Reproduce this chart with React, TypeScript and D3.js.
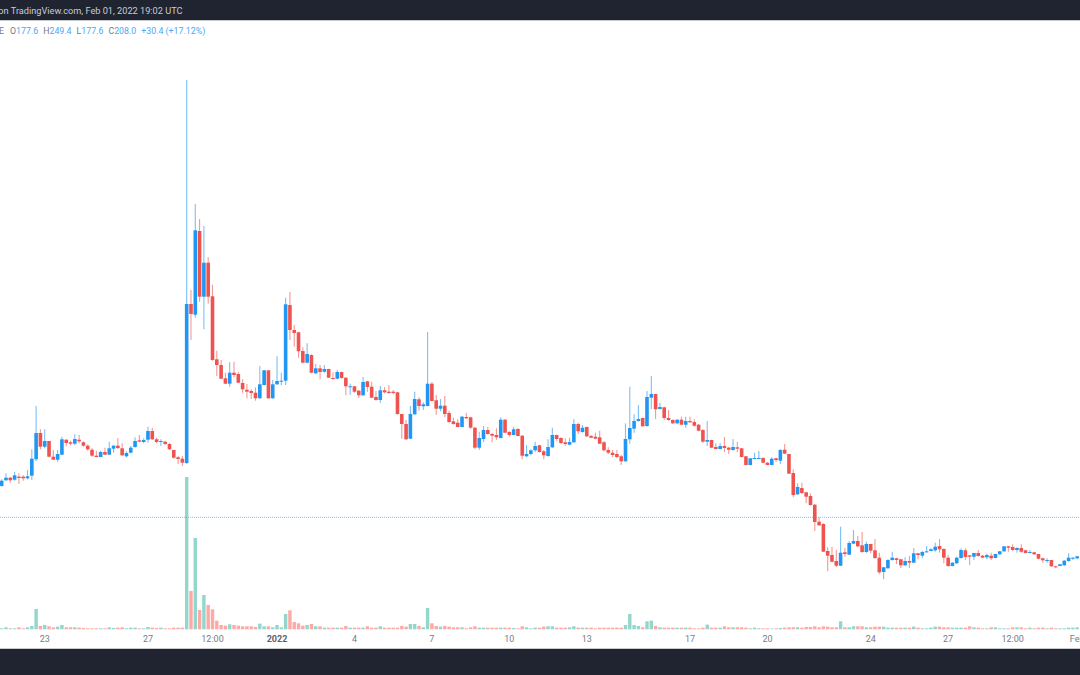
import { useEffect, useRef } from 'react';
import * as d3 from 'd3';

const opens = [
  164,169.7,172.3,170.3,173.3,173.3,171.7,174.3,190.7,217,
  203.3,209,193.3,190.3,195.3,210.3,207.7,206.3,210.3,207.7,
  204.3,200.3,194.3,193,198,195.3,201.3,204.3,201.7,193.7,
  197.3,203,209.7,208,210.3,219,210.7,208.7,208.3,206,
  200,192.7,191.3,187,346,335.3,419,353.3,387.3,353.7,
  290.7,285,271.7,266.3,277.3,276,267,260.3,259,257.3,
  251.7,265,279.7,251.7,265.7,268.3,269.3,345,320,317.7,
  299,287.3,295,276.7,281.7,278.3,281,272,271.3,278,
  272.3,262.7,263.7,259.3,254.7,268.7,263.3,253,250,259.7,
  258.3,258.3,257.7,236,226,211.3,235.7,250.7,243.7,244,
  266.3,249.7,241.3,244.3,237,228.7,227.3,223,233,232.7,
  222.3,202.3,211,220,216,215,212,230.3,218,215,
  221,214.3,193.7,196,199.7,204.7,198.7,194,202.7,215,
  212,207.7,205.3,207.7,226,218,223,214,213.3,212.7,
  207.7,200,197.3,196,193.7,188.7,210.7,221.3,229,232,
  224,252.3,256,241,242.7,232,230,226.7,230.3,225.3,
  229,228,225.3,220,208.3,210,203,201,204,202.3,
  200,202.7,201.7,193.7,185,191.7,191,192,187.3,185,
  191.7,189.3,200.3,196,177,155.7,162,157.7,154,145.3,
  128.3,126,99,95,89,84.3,97.7,95.3,106.3,109,
  104.7,98,106,99.7,92.3,78,81.7,90,91.7,90.7,
  84.7,89,87.3,96.7,94.3,97.7,99,99.7,104,101,
  92.3,84,86.7,92,99.7,94.7,93.3,97,94.3,92.7,
  94.3,92,95.7,98.7,103.7,103,100,102,99.7,97.3,
  97.7,96,91.7,89.3,90,83.7,84,84.7,89,91.3,91.7,
];

const closes = [
  169.3,172.3,169.7,174.7,172,171.7,173.7,191.3,217,203.3,
  209,193.3,190.3,196,210.7,207,206.3,211,208.7,204.3,
  200.7,194.3,193,198,195.3,201.7,204.3,202,194.7,197,
  202.3,209,208.3,210,219,210.7,208,209,206,200.7,
  192.3,191,187.3,346,336,419.7,353.3,387.3,353.3,290,
  285,271.3,266.3,277.3,275,267.3,260.7,258.3,257,251.7,
  265.7,279.7,251.7,265.7,269,269.3,345.7,320,317,298.7,
  287.3,296,277.3,281.7,278,281,272.3,271,278,272,
  263.7,263.7,258.3,254.7,268,263,252.3,250,259.7,257.7,
  257,257,236,226,210.7,236,251,244,245.7,266.3,
  249,241.3,244.3,236,228,226,223,233.3,231.7,222.3,
  202.3,212,220,216,214.3,212.7,230.3,217.3,215,220.7,
  214,194.3,196,199.7,204,198,194.7,203,215,211,
  207,206,208,226,218.7,222.3,213.7,212.3,211.3,206.3,
  199.7,197.3,195,193,188.7,211,222,229,231,223.7,
  253,256,240.7,243,232,230,226.7,230.3,225.3,229,
  227.7,224.3,219.3,208.3,210,202.3,201,204,202,200.3,
  203,201.3,193,185,191.7,192,192,187.3,185,191.3,
  190,200,196.3,176.3,155,163,157,153.3,145,128,
  124.7,98.3,94.3,88.3,84.3,97.3,96,107,109,103.7,
  98,106,99.3,92,77.7,82.7,90,92.3,90,84.7,
  89,87.3,96.7,95,98,98.7,100.7,103.3,100.7,92.3,
  84,87.3,92.3,100,93,93.3,97,94,92.3,95,
  91.7,96,98.7,103.7,102.3,100,102,98.3,97,98,
  95.7,91.3,89.7,90,83.7,83,85.7,89.3,92.3,92.3,93.7,
];

const highs = [
  170.7,176.7,173.3,178,176.7,174.7,180,200.7,244,220.7,
  220.7,209,200,200,213.3,210.7,209.3,215.7,215,208.7,
  205.7,201.7,199.3,199.3,202.3,208.3,205,212,206.7,198.7,
  204,212.7,215,211.7,223.3,222.3,212.3,210.7,209.3,207,
  200.3,194,194,570,360,446,431,424,392.7,365.3,
  299.3,290,277.3,287.7,288.3,278.3,270.7,266,260.7,262.7,
  284,280,280,270,293.7,277.3,352.3,358,325,318.3,
  302.7,306.7,295.7,286,285,285,281.3,277.7,280,278.3,
  272.7,266.3,264,260,273,269.3,268.3,259,264,262.7,
  265,260,258,236.3,230,244,258.3,252.7,247.7,318,
  268,255,251,254,239.3,232.3,230.7,234,237,233.3,
  222.7,218.3,224,223,217.3,221.7,232.7,231,219,223.3,
  222,214.7,205,200.7,208.3,205.3,200,210.7,222.3,215.3,
  212.7,211.7,212.3,230.7,227.3,225,223.3,215,217.3,219.3,
  209,202.7,200,200,195,226.7,263.3,235.7,245,232.3,
  259,274,256.3,247.3,243.3,240,230.7,231,233.3,233.3,
  233.3,230.7,226,220.7,229,210.3,206.7,206.7,213,203.3,
  211,208.3,202,194,192,197.3,199,192.7,188,192.7,
  192.3,201,206,196.3,180.7,166.7,167.3,158.3,156.7,146,
  132.7,126.7,102.7,103.3,100,123.3,102.3,109,120,114,
  118,108.3,106.3,111,97.3,83,90.7,98.3,92.3,91.3,
  92.7,94,102,97.3,99,104,101.7,107.3,111,101.7,
  95,87.7,93.3,101.7,101.7,95,97.3,100,95,96.3,
  97.3,96.3,99,104,104,105.7,102.7,105.7,100.3,100,
  98.3,96.3,92.3,91.7,90.3,84.3,86,90,96.7,93,94,
];

const lows = [
  163.3,169,167.3,169.3,166,169.3,170.7,170,189,200.7,
  201.7,192.7,190,188.3,194.7,204,204.7,204.7,206.7,203.3,
  199.3,193.3,192.7,192.7,195,195,197.3,200.7,194,192.7,
  196.7,202.3,207.7,206.7,207.3,210,206.7,204,204.7,200,
  191.3,186,184,186,310,332.3,348.3,320.7,346.3,289.3,
  274,270.7,266,263.3,272.7,266.7,257.3,251.7,251.3,249.3,
  251.3,264.7,251.3,251.3,265,265,265,310,303.3,292.3,
  286.7,286.7,276.7,276,270.7,277.3,272,270,270.7,271.3,
  254.7,255.3,257.3,252,254,258.3,251.7,249.3,247.3,256.7,
  256.3,255.7,235.3,211.3,210.3,211,235.3,239.3,240,243.7,
  248.7,235.3,238.7,232.7,226.7,225.3,222.7,222.7,231,221.3,
  200.7,200,208,215.3,207.7,210,211.7,216.7,213.3,214.7,
  213.7,190.7,192.7,194.7,197.7,197.3,190.7,193.3,202,209.3,
  206,204,204.7,207,216,217.3,213,212,210.7,206,
  198.7,196,192.7,192,185,188.3,206.3,217.3,228.3,223.3,
  223.3,241,231,240.7,230,229.3,226,225.7,224.7,222,
  227.3,223.3,218.7,207.3,204,201.7,200.7,200.7,198,196,
  199.3,198,192.7,184.7,184.7,191,191,186.7,184.7,184.7,
  188,186,196,176,152.7,155,156,146.7,144.3,119,
  124,98,78.7,87.7,82.7,84,93.3,95,106,102.7,
  97.3,97.3,96.7,91.3,76,70.7,81.3,89.3,86,82,
  84,82,87,90.7,91.7,97.3,98.7,98.3,97.3,86.7,
  83.3,83.7,86.3,91.3,90,85,90,93.3,91.7,90.7,
  90,91.7,95.3,98,98.3,98.7,97.3,97.3,96.7,96.7,
  95,90.7,87.3,87.3,83,81.7,83.7,84.3,88.3,90,90.7,
];

const volumes = [
  3,6,3,3,6,3,6,10,61,10,
  13,9,6,8,13,6,6,6,5,4,
  3,3,3,3,3,6,4,5,6,3,
  5,5,3,3,7,5,4,5,3,3,
  5,5,5,457,115,274,58,103,73,60,
  26,13,11,15,13,11,9,9,9,7,
  17,9,9,6,13,6,46,57,22,18,
  11,13,16,9,9,5,5,5,5,5,
  10,5,5,5,5,9,5,5,9,5,
  5,5,5,10,8,16,16,10,6,64,
  18,10,8,10,8,6,6,6,3,6,
  9,5,5,5,5,5,5,5,5,4,
  3,9,6,3,5,5,8,9,9,5,
  5,5,6,9,5,5,5,5,3,5,
  5,5,5,5,5,13,46,13,10,6,
  24,26,10,6,5,5,5,5,5,5,
  5,3,3,5,14,5,5,5,9,6,
  6,6,6,5,3,5,3,3,3,2,
  3,4,5,6,6,6,5,7,7,9,
  6,9,8,6,6,24,6,6,9,9,
  9,6,6,8,8,8,5,5,5,5,
  5,5,8,5,3,3,5,8,8,6,
  6,5,5,5,5,9,6,5,3,3,
  6,6,3,3,3,6,6,6,3,5,
  3,5,5,3,5,3,3,3,5,5,6,
];

const tickIndex = [10, 34, 49, 64, 82, 100, 118, 136, 160, 178, 202, 220, 235, 250];
const tickLabels = ['23', '27', '12:00', '2022', '4', '7', '10', '13', '17', '20', '24', '27', '12:00', 'Feb'];

const lastPriceLevel = 132.7;
const legendParts = [
  ['O', '177.6'],
  ['H', '249.4'],
  ['L', '177.6'],
  ['C', '208.0'],
];

const UP = '#2196f3';
const DOWN = '#ef5350';
const VOL_UP = '#92d6cc';
const VOL_DOWN = '#fdaaa7';
const DARK = '#1f2430';
const FONT = 'Roboto, "Noto Sans", sans-serif';

export default function App() {
  const svgRef = useRef<SVGSVGElement>(null);

  useEffect(() => {
    if (!svgRef.current) return;
    document.body.style.margin = '0';

    const width = 1080;
    const height = 675;
    const svg = d3.select(svgRef.current);
    svg.selectAll('*').remove();
    svg.attr('width', width).attr('height', height).style('display', 'block').style('background', '#fff');

    // The reference is a slightly soft screenshot
    svg.append('defs').append('filter').attr('id', 'soft')
      .append('feGaussianBlur').attr('stdDeviation', 0.35);
    const plot = svg.append('g').attr('filter', 'url(#soft)');

    const xScale = d3.scaleLinear().domain([0, 250]).range([1.7, 1077.2]);
    const yScale = d3.scaleLinear().domain([0, 630]).range([650, 20]);
    const volScale = d3.scaleLinear().domain([0, 457]).range([629.3, 477]);
    const idx = d3.range(opens.length);
    const bodyW = 3.6;

    // Volume bars
    plot.append('g')
      .selectAll('rect')
      .data(idx)
      .join('rect')
      .attr('x', i => xScale(i) - 1.7)
      .attr('y', i => volScale(volumes[i]))
      .attr('width', 3.4)
      .attr('height', i => volScale(0) - volScale(volumes[i]))
      .attr('fill', i => (closes[i] >= opens[i] ? VOL_UP : VOL_DOWN));

    // Last price line
    svg.append('line')
      .attr('x1', 0).attr('x2', width)
      .attr('y1', yScale(lastPriceLevel)).attr('y2', yScale(lastPriceLevel))
      .attr('stroke', '#5f9fc9').attr('stroke-width', 1).attr('stroke-dasharray', '1,1').attr('stroke-opacity', 0.7);

    // Wicks
    plot.append('g')
      .selectAll('line')
      .data(idx)
      .join('line')
      .attr('x1', i => xScale(i)).attr('x2', i => xScale(i))
      .attr('y1', i => yScale(highs[i])).attr('y2', i => yScale(lows[i]))
      .attr('stroke', i => (closes[i] >= opens[i] ? UP : DOWN))
      .attr('stroke-width', 1.1)
      .attr('stroke-opacity', 0.6);

    // Bodies
    plot.append('g')
      .selectAll('rect')
      .data(idx)
      .join('rect')
      .attr('x', i => xScale(i) - bodyW / 2)
      .attr('y', i => yScale(Math.max(opens[i], closes[i])))
      .attr('width', bodyW)
      .attr('height', i => Math.max(1, Math.abs(yScale(opens[i]) - yScale(closes[i]))))
      .attr('fill', i => (closes[i] >= opens[i] ? UP : DOWN));

    // Top and bottom bars
    svg.append('rect').attr('width', width).attr('height', 20).attr('fill', DARK);
    svg.append('rect').attr('y', 20).attr('width', width).attr('height', 1).attr('fill', '#c8cacd');
    svg.append('rect').attr('y', 649).attr('width', width).attr('height', 26).attr('fill', DARK);
    svg.append('rect').attr('y', 648).attr('width', width).attr('height', 1).attr('fill', '#c8cacd');

    svg.append('text')
      .attr('x', 182.5).attr('y', 14)
      .attr('text-anchor', 'end')
      .attr('font-family', FONT).attr('font-size', 9.2)
      .attr('fill', '#c9ccd3')
      .text('Published on TradingView.com, Feb 01, 2022 19:02 UTC');

    // Time labels
    svg.append('g')
      .selectAll('text')
      .data(tickLabels)
      .join('text')
      .attr('x', (_, i) => xScale(tickIndex[i]))
      .attr('y', 642)
      .attr('text-anchor', 'middle')
      .attr('font-family', FONT).attr('font-size', 9)
      .attr('font-weight', d => (d === '2022' ? 700 : 400))
      .attr('fill', d => (d === '2022' ? '#5d606b' : '#787b86'))
      .text(d => d);

    // OHLC legend
    const legend = svg.append('text')
      .attr('x', -1).attr('y', 34)
      .attr('font-family', FONT).attr('font-size', 8.8)
      .attr('fill', '#787b86');
    legend.append('tspan').text('E');
    legendParts.forEach(([k, v], i) => {
      legend.append('tspan').attr('dx', i === 0 ? 6 : 5).attr('fill', '#787b86').text(k);
      legend.append('tspan').attr('fill', '#4aa8f5').text(v);
    });
    legend.append('tspan').attr('dx', 5).attr('fill', '#4aa8f5').text('+30.4 (+17.12%)');
  }, []);

  return <svg ref={svgRef} />;
}
